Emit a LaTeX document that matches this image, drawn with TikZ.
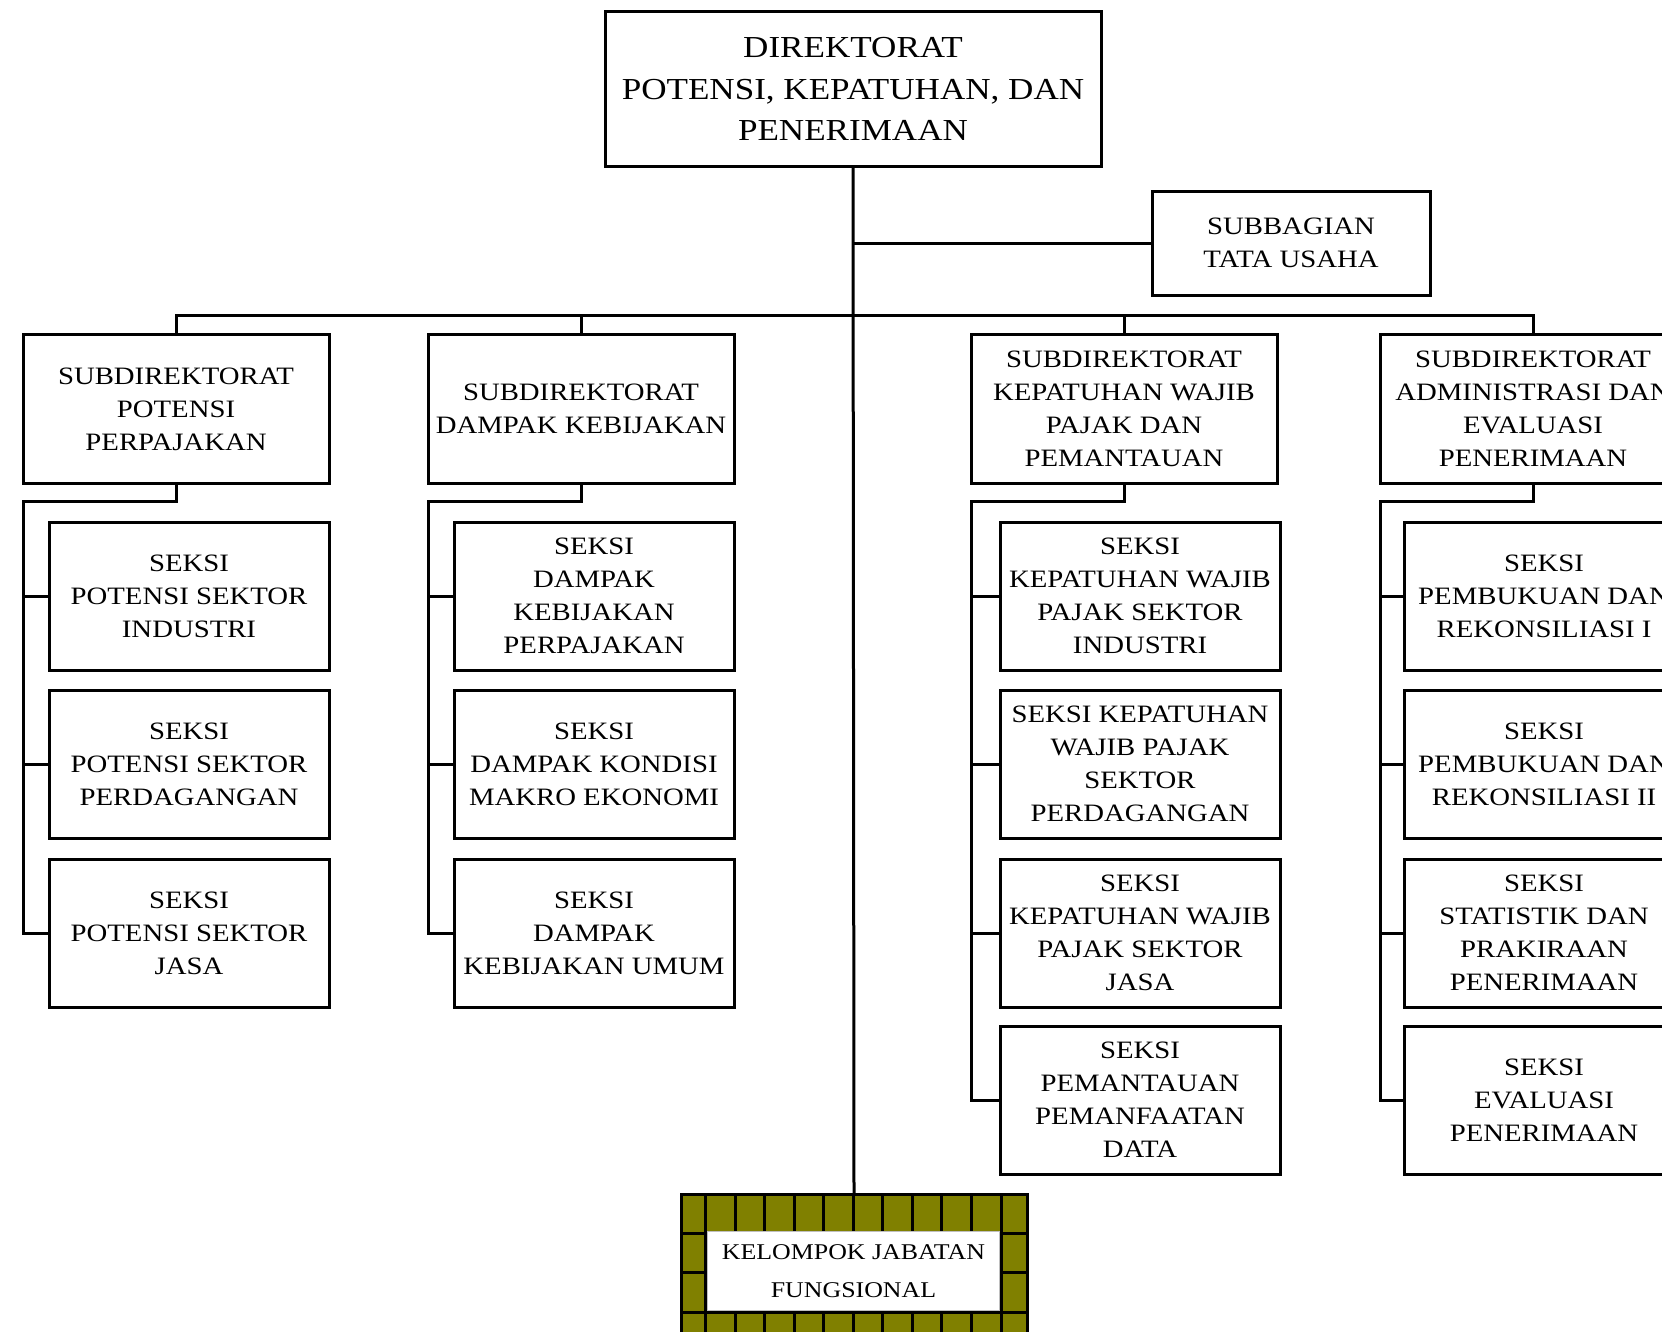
\documentclass[tikz,border=0pt]{standalone}
\usepackage{fontspec}
\setmainfont[FakeStretch=1.15]{Liberation Serif}
\usetikzlibrary{positioning}
\definecolor{brickC}{rgb}{0.5,0.5,0}

\tikzset{
  unit/.style={draw, line width=3pt, inner sep=0pt, outer sep=0pt,
               align=center, font=\fontsize{25}{33}\selectfont},
  subdir/.style={unit, minimum width=306pt, minimum height=149pt},
  seksi/.style={unit, minimum width=280pt, minimum height=148pt},
  link/.style={line width=3pt}
}

\begin{document}
\begin{tikzpicture}[x=1pt,y=-1pt]
  \useasboundingbox (0,0) rectangle (1662,1331);
  \clip (0,0) rectangle (1662,1331);

  % Direktorat and tata usaha
  \node[unit, minimum width=496pt, minimum height=155pt,
        font=\fontsize{30.5}{41.7}\selectfont] (dir) at (853,89)
    {DIREKTORAT\\POTENSI, KEPATUHAN, DAN\\PENERIMAAN};
  \node[unit, minimum width=278pt, minimum height=104pt] (tu) at (1291,243)
    {SUBBAGIAN\\TATA USAHA};

  % Subdirektorat row
  \node[subdir] (pot) at (176,409) {SUBDIREKTORAT\\POTENSI\\PERPAJAKAN};
  \node[subdir] (dam) at (581,409) {SUBDIREKTORAT\\DAMPAK KEBIJAKAN};
  \node[subdir] (kep) at (1124,409)
    {SUBDIREKTORAT\\KEPATUHAN WAJIB\\PAJAK DAN\\PEMANTAUAN};
  \node[subdir] (adm) at (1533,409)
    {SUBDIREKTORAT\\ADMINISTRASI DAN\\EVALUASI\\PENERIMAAN};

  % Seksi under potensi perpajakan
  \node[seksi] (pot1) at (189,596) {SEKSI\\POTENSI SEKTOR\\INDUSTRI};
  \node[seksi] (pot2) at (189,764) {SEKSI\\POTENSI SEKTOR\\PERDAGANGAN};
  \node[seksi] (pot3) at (189,933) {SEKSI\\POTENSI SEKTOR\\JASA};

  % Seksi under dampak kebijakan
  \node[seksi] (dam1) at (594,596) {SEKSI\\DAMPAK\\KEBIJAKAN\\PERPAJAKAN};
  \node[seksi] (dam2) at (594,764) {SEKSI\\DAMPAK KONDISI\\MAKRO EKONOMI};
  \node[seksi] (dam3) at (594,933) {SEKSI\\DAMPAK\\KEBIJAKAN UMUM};

  % Seksi under kepatuhan
  \node[seksi] (kep1) at (1140,596)
    {SEKSI\\KEPATUHAN WAJIB\\PAJAK SEKTOR\\INDUSTRI};
  \node[seksi] (kep2) at (1140,764)
    {SEKSI KEPATUHAN\\WAJIB PAJAK\\SEKTOR\\PERDAGANGAN};
  \node[seksi] (kep3) at (1140,933)
    {SEKSI\\KEPATUHAN WAJIB\\PAJAK SEKTOR\\JASA};
  \node[seksi] (kep4) at (1140,1100)
    {SEKSI\\PEMANTAUAN\\PEMANFAATAN\\DATA};

  % Seksi under administrasi
  \node[seksi] (adm1) at (1544,596) {SEKSI\\PEMBUKUAN DAN\\REKONSILIASI I};
  \node[seksi] (adm2) at (1544,764) {SEKSI\\PEMBUKUAN DAN\\REKONSILIASI II};
  \node[seksi] (adm3) at (1544,933)
    {SEKSI\\STATISTIK DAN\\PRAKIRAAN\\PENERIMAAN};
  \node[seksi] (adm4) at (1544,1100) {SEKSI\\EVALUASI\\PENERIMAAN};

  % Kelompok jabatan fungsional (brick frame)
  \node[draw, line width=3pt, fill=brickC, inner sep=0pt, outer sep=0pt,
        minimum width=346pt, minimum height=157pt] (kjf) at (854,1272.5) {};
  \foreach \k in {0,...,10}
    \draw[link] ({705.7+29.53*\k},1194) -- ++(0,157);
  \foreach \y in {1233,1272.5,1312}
    \draw[link] (680.7,\y) -- (1027,\y);
  \node[fill=white, draw=gray!50, line width=0.6pt, inner sep=0pt,
        minimum width=292pt, minimum height=79pt, align=center,
        font=\fontsize{22.5}{38}\selectfont] (kjfin) at (853.5,1271)
    {KELOMPOK JABATAN\\FUNGSIONAL};

  % Trunk and bus
  \draw[link] (dir.south) -- (kjf.north);
  \draw[link] (tu.west) -- (tu.west -| dir.south);
  \coordinate (bus) at (0,315);
  \draw[link] (pot.north) -- (pot.north |- bus) -- (adm.north |- bus)
    -- (adm.north);
  \foreach \d in {dam,kep}
    \draw[link] (\d.north) -- (\d.north |- bus);

  % Spines down to the seksi
  \foreach \d/\n in {pot/3,dam/3,kep/4,adm/4}{
    \draw[link] (\d.south) -- ++(0,18) -| (\d.west |- \d\n.west)
      -- (\d\n.west);
    \foreach \i in {1,...,\n}
      \draw[link] (\d\i.west) -- (\d.west |- \d\i.west);
  }
\end{tikzpicture}
\end{document}
